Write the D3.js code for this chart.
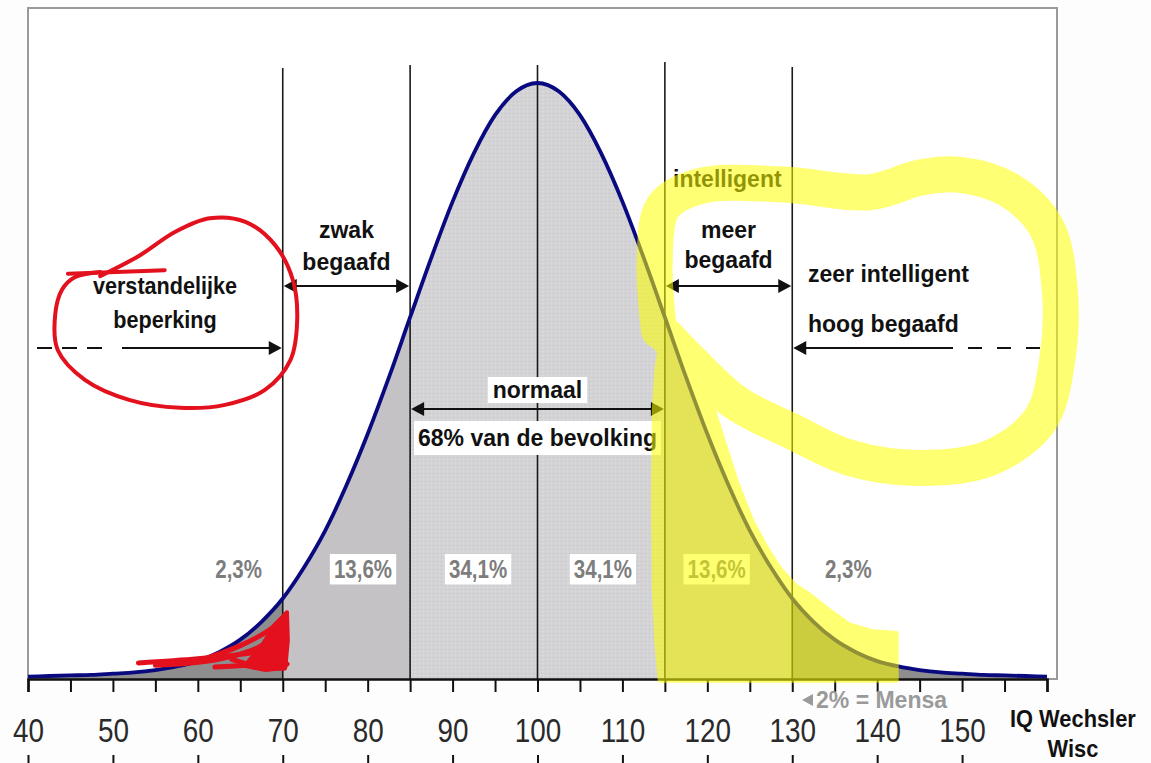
<!DOCTYPE html>
<html><head><meta charset="utf-8">
<script src="https://cdn.jsdelivr.net/npm/d3@7"></script>
<style>
body{margin:0;background:#fdfdfd;}
svg{display:block;}
</style>
</head><body>
<svg id="c" width="1151" height="763"></svg>
<script>
// ---------- data ----------
const iqPoints = [40,42.5,45,47.5,50,52.5,55,57.5,60,62.5,65,67.5,70,72.5,75,77.5,80,82.5,85,87.5,90,92.5,95,97.5,100,
  102.5,105,107.5,110,112.5,115,117.5,120,122.5,125,127.5,130,132.5,135,137.5,140,142.5,145,147.5,150,152.5,155,157.5,160];
// curve height in percent of the peak
const curveHeights = [0.4,0.5,0.6,0.7,0.9,1.1,1.5,2.1,3.0,4.5,6.6,9.6,13.5,18.7,24.9,32.5,41.1,50.6,60.7,70.7,80.1,88.2,94.6,98.6,100,
  98.6,94.6,88.2,80.1,70.7,60.7,50.6,41.1,32.5,24.9,18.7,13.5,9.6,6.6,4.5,3.0,2.1,1.5,1.1,0.9,0.7,0.6,0.5,0.4];
const bandEdges = [40,70,85,100,115,130,160];
const bandShares = ["2,3%","13,6%","34,1%","34,1%","13,6%","2,3%"];
const axisTickValues = [40,45,50,55,60,65,70,75,80,85,90,95,100,105,110,115,120,125,130,135,140,145,150,155,160];
const tickLabels = [40,50,60,70,80,90,100,110,120,130,140,150];
const dividerIQ = [70,85,100,115,130];

// ---------- layout / style ----------
const W = 1151, H = 763;
const svg = d3.select("#c");
const x = d3.scaleLinear().domain([40,160]).range([28,1047]);
const y = d3.scaleLinear().domain([0,100]).range([679,83]);
const AXIS_Y = 679;
const bandFills = ["#8e8e8e","#c4c2c5","url(#dots)","url(#dots)","#c4c2c5","#8e8e8e"];
const dividerTops = [68,65,65,62,67];
const shareX = [64.8,79.45,93.0,107.7,121.1,136.6];   // label centres in IQ units
const shareBoxed = [false,true,true,true,true,false];
const FONT = "'Liberation Sans', Arial, sans-serif";

const defs = svg.append("defs");
const pat = defs.append("pattern").attr("id","dots").attr("width",4).attr("height",4).attr("patternUnits","userSpaceOnUse");
pat.append("rect").attr("width",4).attr("height",4).attr("fill","#d4d4d6");
pat.append("rect").attr("x",1).attr("y",1).attr("width",1).attr("height",1).attr("fill","#c3c3c6");
pat.append("rect").attr("x",3).attr("y",3).attr("width",1).attr("height",1).attr("fill","#dcdcde");

svg.append("rect").attr("width",W).attr("height",H).attr("fill","#fdfdfd");
// frame
svg.append("rect").attr("x",28).attr("y",8).attr("width",1029).attr("height",AXIS_Y-8)
  .attr("fill","#ffffff").attr("stroke","#9a9a9a").attr("stroke-width",2);

const pts = iqPoints.map((v,i)=>({iq:v,h:curveHeights[i]}));
const area = d3.area().x(d=>x(d.iq)).y0(y(0)).y1(d=>y(d.h)).curve(d3.curveMonotoneX);
const line = d3.line().x(d=>x(d.iq)).y(d=>y(d.h)).curve(d3.curveMonotoneX);

// bands
for(let i=0;i<bandEdges.length-1;i++){
  const seg = pts.filter(p=>p.iq>=bandEdges[i] && p.iq<=bandEdges[i+1]);
  svg.append("path").attr("d",area(seg)).attr("fill",bandFills[i]);
}
// divider lines
dividerIQ.forEach((v,i)=>{
  svg.append("line").attr("x1",x(v)).attr("x2",x(v)).attr("y1",dividerTops[i]).attr("y2",AXIS_Y)
    .attr("stroke","#1a1a1a").attr("stroke-width",1.6);
});
// curve
svg.append("path").attr("d",line(pts)).attr("fill","none").attr("stroke","#0a0a80").attr("stroke-width",3.8);

// axis
const ax = svg.append("g").attr("transform",`translate(0,${AXIS_Y})`)
  .call(d3.axisBottom(x).tickValues(axisTickValues).tickSize(13).tickPadding(26)
    .tickFormat(d=> tickLabels.includes(d) ? d : ""));
ax.select(".domain").attr("stroke","#111").attr("stroke-width",2.5);
ax.selectAll(".tick line").attr("stroke","#111").attr("stroke-width",2);
ax.selectAll("text").attr("font-family",FONT).attr("font-size",34).attr("fill","#2a2a2a")
  .attr("transform","scale(0.82,1)");
// second row of small ticks at the bottom
const ax2 = svg.append("g").attr("transform",`translate(0,${H})`)
  .call(d3.axisTop(x).tickValues(tickLabels).tickSize(8).tickFormat(""));
ax2.select(".domain").remove();
ax2.selectAll(".tick line").attr("stroke","#111").attr("stroke-width",2);

// helper: text (optionally condensed) with optional white box
function label(txt, cx, base, opts){
  const g = svg.append("g").attr("transform",`translate(${cx},${base}) scale(${opts.sx||1},1)`);
  const t = g.append("text").attr("x",0).attr("y",0).text(txt)
    .attr("text-anchor",opts.anchor||"middle")
    .attr("font-family",FONT).attr("font-weight","bold")
    .attr("font-size",opts.size||23).attr("fill",opts.fill||"#111");
  if(opts.box){
    const b = t.node().getBBox();
    const px = opts.padX!=null?opts.padX:4, py = opts.padY!=null?opts.padY:1;
    g.insert("rect","text").attr("x",b.x-px).attr("y",b.y-py).attr("width",b.width+2*px).attr("height",b.height+2*py).attr("fill","#ffffff");
  }
  return t;
}

// axis title
label("IQ Wechsler", 1010, 727, {anchor:"start", sx:0.95});
label("Wisc", 1073, 757, {sx:0.95});
// Mensa note
svg.append("path").attr("d",d3.line()([[802,700],[813,694],[813,706]])+"Z").attr("fill","#9a9a9a");
label("2% = Mensa", 816, 708, {anchor:"start", fill:"#9a9a9a"});

// percentage labels
bandShares.forEach((s,i)=>{
  label(s, x(shareX[i]), 578, {size:25, sx:0.82, fill:"#7d7d7d", box:shareBoxed[i], padX:5, padY:1});
});

// category texts
label("verstandelijke", 165, 294, {size:23, sx:0.94});
label("beperking", 165, 328, {size:23, sx:0.94});
label("zwak", x(77.5), 238, {});
label("begaafd", x(77.5), 270, {});
label("normaal", x(100), 398, {box:true, padX:5, padY:0});
label("68% van de bevolking", x(100), 446, {box:true, padX:4, padY:4});
label("intelligent", 673, 187, {anchor:"start"});
label("meer", x(122.5), 238, {});
label("begaafd", x(122.5), 268, {});
label("zeer intelligent", 808, 282, {anchor:"start"});
label("hoog begaafd", 808, 332, {anchor:"start"});

// arrows
function head(xt, yy, dir){ // dir = +1 pointing right, -1 pointing left
  svg.append("path").attr("d", d3.line()([[xt,yy],[xt-dir*13,yy-7],[xt-dir*13,yy+7]])+"Z").attr("fill","#111");
}
function seg(x1,x2,yy,dash){
  svg.append("line").attr("x1",x1).attr("x2",x2).attr("y1",yy).attr("y2",yy)
    .attr("stroke","#111").attr("stroke-width",2).attr("stroke-dasharray",dash||null);
}
seg(x(70)+10,x(85)-10,286); head(x(70)+1,286,-1); head(x(85)-1,286,1);
seg(37,110,348,"15,10"); seg(122,x(70)-10,348); head(x(70)-1,348,1);
seg(x(85)+10,x(115)-10,409); head(x(85)+1,409,-1); head(x(115)-1,409,1);
seg(x(115)+10,x(130)-10,286); head(x(115)+1,286,-1); head(x(130)-1,286,1);
seg(x(130)+10,953,348); seg(968,1043,348,"14,15"); head(x(130)+1,348,-1);

// ---------- hand-drawn highlights (in data units) ----------
const yellowLoop = [[114.3,58.5],[113.8,70.3],[114.8,79.2],[119.1,82.7],[128.6,83.0],[139.2,81.7],[145.0,84.1],
  [149.8,84.6],[155.6,82.0],[160.0,75.6],[161.5,65.3],[161.2,53.5],[159.2,43.5],[153.3,37.1],[145.0,35.4],
  [136.8,37.1],[129.9,41.6],[123.4,46.3],[117.9,53.5],[115.2,57.5]];
const yellowFill = [[114.6,57.5],[117.9,57.0],[119.5,53.0],[120.6,46.0],[121.9,40.1],[123.5,33.0],[125.3,26.5],
  [127.0,22.0],[128.6,18.5],[130.3,15.8],[132.0,14.2],[134.5,11.4],[136.8,9.1],[139.5,8.0],[142.3,7.7],
  [142.3,-0.3],[114.4,-0.3],[114.0,6.0],[113.7,15.0],[113.6,30.0],[113.7,45.0],[114.0,52.0]];
const redLoop = [[48.5,67.6],[53.2,71.1],[57.3,75.0],[61.4,77.3],[65.6,76.7],[69.1,72.8],[71.2,66.9],[71.7,60.2],
  [70.9,53.5],[67.9,48.5],[63.2,46.0],[57.9,45.5],[52.0,46.8],[46.7,50.2],[43.5,55.2],[43.2,61.1],[44.0,65.3],[45.5,67.4],[48.5,68.3]];
const redDash = [[44.7,68.0],[56.1,68.6]];
const redScribble = [[65.5,2.2],[67.5,5.5],[69.0,9.0],[70.5,11.2],[70.6,6.5],[70.3,1.9],[68.0,1.5]];
const redStrokes = [
  [[53.0,2.7],[60,3.4],[66,4.3],[70.3,5.2]],
  [[55,2.3],[62,3.2],[67,5.2],[70.3,8.8]],
  [[60,3.0],[65,5.6],[68.5,8.3],[70.4,10.8]],
  [[62,2.0],[66,2.4],[69,3.2],[70.5,2.5]],
  [[64,3.3],[67.5,2.0],[70.2,1.8]]
];

const toPx = d=>[x(d[0]),y(d[1])];
const hl = svg.append("g").attr("opacity",0.55);
hl.append("path").attr("d",d3.line()(yellowFill.map(toPx))+"Z").attr("fill","#ffff00")
  .attr("stroke","#ffff00").attr("stroke-width",4).attr("stroke-linejoin","round");
hl.append("path").attr("d",d3.line().curve(d3.curveCatmullRom)(yellowLoop.map(toPx)))
  .attr("fill","none").attr("stroke","#ffff00").attr("stroke-width",36).attr("stroke-linecap","round").attr("stroke-linejoin","round");

const red = "#e3101e";
svg.append("path").attr("d",d3.line().curve(d3.curveCatmullRom)(redLoop.map(toPx)))
  .attr("fill","none").attr("stroke",red).attr("stroke-width",4).attr("stroke-linecap","round");
svg.append("path").attr("d",d3.line()(redDash.map(toPx)))
  .attr("fill","none").attr("stroke",red).attr("stroke-width",4).attr("stroke-linecap","round");
svg.append("path").attr("d",d3.line()(redScribble.map(toPx))+"Z")
  .attr("fill",red).attr("stroke",red).attr("stroke-width",4).attr("stroke-linejoin","round");
redStrokes.forEach(s=>{
  svg.append("path").attr("d",d3.line().curve(d3.curveCatmullRom)(s.map(toPx)))
    .attr("fill","none").attr("stroke",red).attr("stroke-width",5).attr("stroke-linecap","round");
});
</script>
</body></html>
